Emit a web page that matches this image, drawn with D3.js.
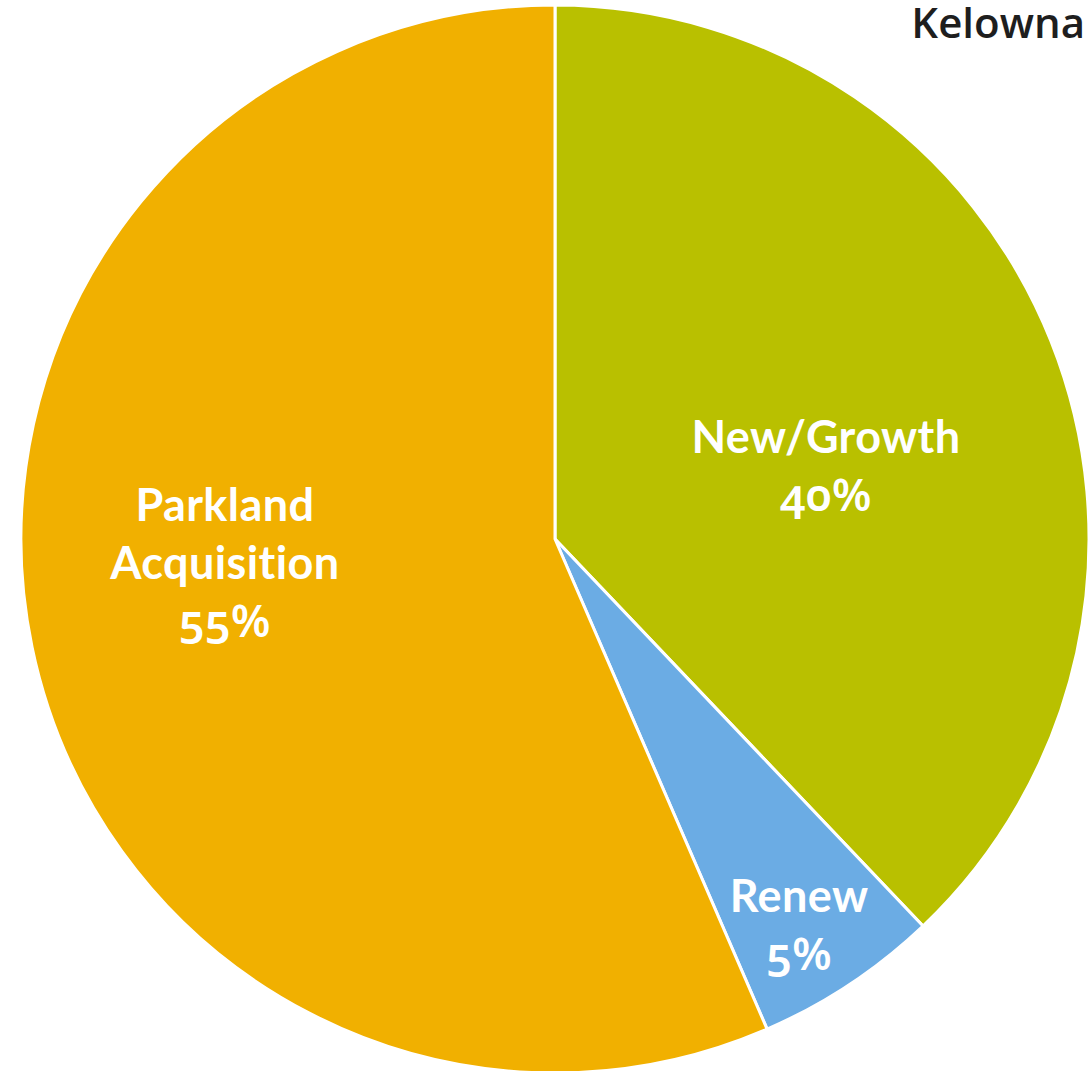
<!DOCTYPE html>
<html>
<head>
<meta charset="utf-8">
<script src="https://cdn.jsdelivr.net/npm/d3@7"></script>
<style>
  html, body { margin: 0; padding: 0; background: #fff; }
  #chart { width: 1089px; height: 1071px; overflow: hidden; }
  text { font-family: Lato, "Open Sans", sans-serif; font-variant-ligatures: none; }
  .pct { font-family: "Noto Sans", sans-serif; font-weight: 600; font-variant-numeric: oldstyle-nums; font-feature-settings: "onum" 1; }
</style>
</head>
<body>
<div id="chart"></div>
<script>
// slices, read clockwise from 12 o'clock
const categories = ["New/Growth", "Renew", "Parkland Acquisition"];
const values = [37.9, 5.6, 56.5];
const percentLabels = ["40%", "5%", "55%"];
const colors = ["#B9C000", "#6BACE4", "#F1B000"];
const brand = "Kelowna";

function pieChart(rootDOM){

	const W = 1089;
	const H = 1071;
	const cx = 555, cy = 539;
	const R = 534;

	const data = categories.map((c, i) => ({name: c, value: values[i], pct: percentLabels[i], color: colors[i]}));

	const pie = d3.pie().sort(null).value(d => d.value);
	const arc = d3.arc().innerRadius(0).outerRadius(R);

	//label placement: fraction of radius + angle nudge from the slice mid angle (deg)
	const labelPlace = {
		"New/Growth": {k: 0.525, da: 6.9, lines: ["New/Growth"]},
		"Renew": {k: 0.856, da: 1.2, lines: ["Renew"]},
		"Parkland Acquisition": {k: 0.62, da: 7.4, lines: ["Parkland", "Acquisition"]}
	};

	const svg = d3.select(rootDOM)
		.append('svg')
		.attr('width', W)
		.attr('height', H);

	const plot = svg.append('g')
		.attr('transform', `translate(${cx}, ${cy})`);

	const arcs = pie(data);

	plot.selectAll('path.slice')
		.data(arcs)
		.join('path')
		.attr('class', 'slice')
		.attr('d', arc)
		.style('fill', d => d.data.color)
		.style('stroke', '#fff')
		.style('stroke-width', '3px')
		.style('stroke-linejoin', 'miter');

	const lineH = 58;
	const fs = 45;

	arcs.forEach(a => {
		const p = labelPlace[a.data.name];
		const ang = (a.startAngle + a.endAngle) / 2 + p.da * Math.PI / 180;
		const r = R * p.k;
		const x = r * Math.sin(ang);
		const y = -r * Math.cos(ang);
		const lines = p.lines.concat([a.data.pct]);
		const n = lines.length;
		const t = plot.append('text')
			.attr('text-anchor', 'middle')
			.style('fill', '#fff')
			.style('font-weight', 700)
			.style('font-size', fs + 'px')
			.style('letter-spacing', '0.4px');
		lines.forEach((l, i) => {
			t.append('tspan')
				.attr('class', i === n - 1 ? 'pct' : null)
				.attr('x', x)
				.attr('y', y + (i - (n - 1) / 2) * lineH + fs * 0.34)
				.text(l);
		});
	});

	svg.append('text')
		.attr('x', 1085)
		.attr('y', 38)
		.attr('text-anchor', 'end')
		.style('font-family', '"Open Sans", sans-serif')
		.style('font-weight', 600)
		.style('font-size', '42px')
		.style('fill', '#1e1e1e')
		.text(brand);
}

pieChart(document.getElementById('chart'));
</script>
</body>
</html>
